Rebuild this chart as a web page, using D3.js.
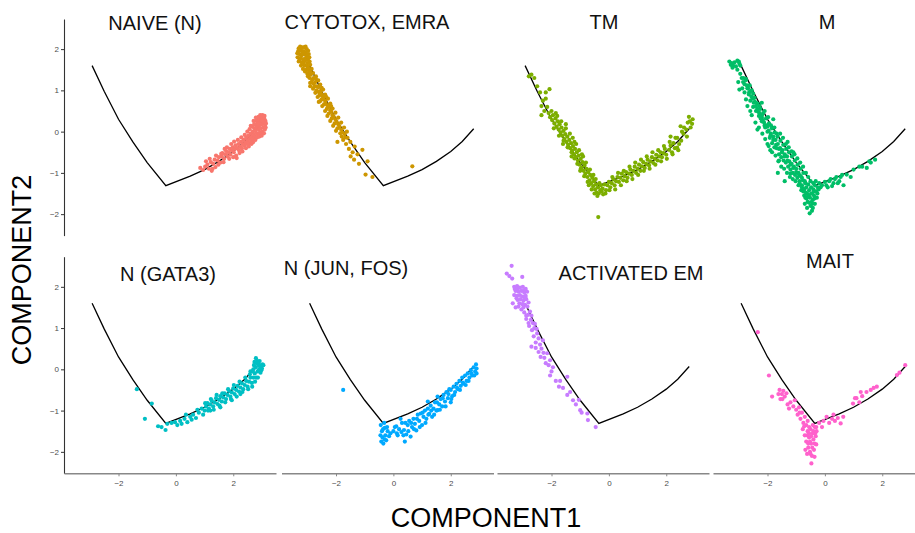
<!DOCTYPE html>
<html><head><meta charset="utf-8">
<script src="https://cdn.jsdelivr.net/npm/d3@7"></script>
<style>body{margin:0;background:#fff}svg{display:block}</style>
</head><body>
<svg id="chart" width="915" height="533"></svg>
<script>
// ---- DATA ----
const panelTitles = ["NAIVE (N)", "CYTOTOX, EMRA", "TM", "M", "N (GATA3)", "N (JUN, FOS)", "ACTIVATED EM", "MAIT"];
const panelColors = ["#F8766D", "#CD9600", "#7CAE00", "#00BE67", "#00BFC4", "#00A9FF", "#C77CFF", "#FF61CC"];
const xTicks = [-2, 0, 2];
const yTicks = [-2, -1, 0, 1, 2];
const xLabel = "COMPONENT1";
const yLabel = "COMPONENT2";
// principal curve (same in every panel)
const curveX = [-2.92, -2.5, -2.0, -1.5, -1.0, -0.35, 0.5, 1.0, 1.5, 2.0, 2.4, 2.8];
const curveY = [1.6, 0.98, 0.3, -0.25, -0.75, -1.31, -1.08, -0.92, -0.72, -0.48, -0.24, 0.07];

const naivePts = [[0.85,-0.88],[0.95,-0.93],[1.02,-0.85],[1.1,-0.8],[1.15,-0.9],[1.22,-0.74],[1.3,-0.78],[1.35,-0.68],[1.38,-0.86],[1.45,-0.7],[1.5,-0.62],[1.55,-0.75],
[1.6,-0.6],[1.62,-0.52],[1.68,-0.66],[1.72,-0.55],[1.75,-0.47],[1.8,-0.6],[1.83,-0.5],[1.88,-0.42],[1.9,-0.56],[1.95,-0.46],[1.98,-0.38],[2.02,-0.5],[2.05,-0.42],[2.08,-0.33],[2.1,-0.58],[2.14,-0.4],[2.18,-0.3],[2.2,-0.45],
[2.24,-0.36],[2.27,-0.25],[2.3,-0.4],[2.33,-0.3],[2.36,-0.2],[2.38,-0.34],[2.42,-0.26],[2.45,-0.15],[2.47,-0.3],[2.5,-0.22],[2.52,-0.1],[2.55,-0.28],[2.58,-0.16],[2.6,-0.05],[2.62,-0.22],[2.65,-0.12],[2.68,0.0],[2.7,-0.18],
[2.72,-0.06],[2.74,0.08],[2.76,-0.12],[2.78,0.02],[2.8,0.15],[2.82,-0.04],[2.84,0.1],[2.86,0.22],[2.87,-0.08],[2.89,0.05],[2.9,0.3],[2.92,0.16],[2.93,-0.02],[2.95,0.25],[2.96,0.08],[2.98,0.33],[3.0,0.18],[3.01,0.0],[3.03,0.27],[3.05,0.1],[3.06,0.22],[3.08,0.32],[3.1,0.05],[3.11,0.16],[3.12,0.26],[2.97,-0.05],[2.85,0.3],[3.04,0.36],[1.4,-0.58],[1.25,-0.95],[1.7,-0.42],[2.0,-0.62],
[1.05,-0.72],[1.18,-0.66],[1.28,-0.9],[1.48,-0.8],[1.58,-0.54],[1.66,-0.74],[1.78,-0.38],[1.86,-0.66],[1.93,-0.3],[2.03,-0.24],[2.12,-0.64],[2.16,-0.2],[2.22,-0.52],[2.28,-0.14],[2.32,-0.48],[2.4,-0.08],[2.44,-0.4],[2.49,0.0],[2.54,-0.36],[2.57,0.06],[2.63,-0.3],[2.66,0.12],[2.69,-0.26],[2.73,0.18],[2.77,-0.2],[2.81,0.26],[2.83,-0.14],[2.88,0.36],[2.91,-0.12],[2.94,0.4],[2.99,-0.1],[3.02,0.4],[3.07,-0.04],[3.09,0.38],[3.13,0.1],[3.14,0.2],[2.79,0.34],[2.71,0.26],[2.61,0.14],[2.93,0.08],[3.0,0.28],[2.87,0.2]];

const cytotoxPts = [[-3.3,2.02],[-3.25,2.06],[-3.18,2.04],[-3.1,2.05],[-3.02,2.0],[-3.32,1.95],[-3.22,1.97],[-3.12,1.95],[-3.05,1.92],[-2.97,1.96],[-3.28,1.88],[-3.2,1.85],[-3.1,1.87],[-3.02,1.84],[-2.95,1.88],[-3.34,1.8],[-3.25,1.78],[-3.15,1.76],[-3.05,1.78],[-2.98,1.75],[-3.3,1.7],[-3.2,1.68],[-3.12,1.7],[-3.0,1.66],[-2.92,1.7],[-3.22,1.6],[-3.1,1.6],[-3.0,1.58],[-2.9,1.62],[-3.15,1.52],
[-3.05,1.5],[-2.95,1.48],[-2.85,1.52],[-3.0,1.4],[-2.88,1.38],[-2.8,1.42],[-2.92,1.3],[-2.78,1.3],[-2.7,1.34],[-2.85,1.2],[-2.72,1.2],[-2.62,1.24],[-2.75,1.1],[-2.62,1.08],[-2.55,1.14],[-2.68,1.0],[-2.55,0.98],[-2.45,1.02],[-2.58,0.88],[-2.46,0.86],[-2.38,0.9],[-2.5,0.78],[-2.38,0.75],[-2.28,0.8],[-2.42,0.66],[-2.3,0.64],[-2.2,0.68],[-2.32,0.55],[-2.2,0.52],[-2.12,0.56],[-2.25,0.44],[-2.12,0.4],[-2.02,0.46],[-2.15,0.32],[-2.02,0.3],[-1.92,0.34],[-2.05,0.2],[-1.92,0.18],[-1.82,0.22],[-1.95,0.08],[-1.82,0.05],[-1.72,0.1],[-1.85,-0.04],[-1.7,-0.06],[-1.62,0.0],[-2.6,0.72],[-2.9,1.1],
[-1.75,-0.2],[-1.6,-0.15],[-1.65,-0.3],[-1.55,-0.42],[-1.5,-0.25],[-1.42,-0.5],[-1.35,-0.36],[-1.49,-0.6],[-1.37,-0.68],[-1.25,-0.55],[-1.08,-0.44],[-0.9,-0.72],[-1.2,-0.78],[-0.97,-1.04],[-0.73,-1.1],[0.66,-0.84],[-1.95,-0.25],
[-3.35,1.9],[-3.27,1.74],[-3.17,1.92],[-3.08,1.72],[-2.93,1.8],[-3.24,2.0],[-3.06,2.06],[-3.14,1.64],[-2.96,1.54],[-3.08,1.46],[-2.9,1.44],[-2.98,1.34],[-2.83,1.26],[-2.9,1.18],[-2.78,1.16],[-2.8,1.04],[-2.68,1.1],[-2.72,0.94],[-2.6,0.96],[-2.64,0.84],[-2.52,0.92],[-2.55,0.74],[-2.44,0.8],[-2.48,0.62],[-2.36,0.7],[-2.38,0.5],[-2.26,0.6],[-2.3,0.38],[-2.17,0.48],[-2.2,0.26],[-2.08,0.36],[-2.1,0.14],[-1.98,0.24],[-2.0,0.02],[-1.88,0.12],[-1.78,-0.02],[-1.68,-0.14],[-1.8,-0.12],[-2.7,1.28],[-2.5,1.06],[-2.35,0.85],[-2.17,0.62]];

const tmPts = [[-2.79,1.34],[-2.7,1.38],[-2.6,1.3],[-2.07,1.03],[-2.4,0.95],[-2.3,0.75],[-2.2,0.8],[-2.35,0.62],[-2.15,0.6],[-2.25,0.5],[-2.1,0.45],
[-2.05,0.35],[-1.98,0.28],[-1.95,0.4],[-1.9,0.2],[-1.86,0.32],[-1.82,0.12],[-1.78,0.25],[-1.75,0.05],[-1.72,0.18],[-1.68,-0.02],[-1.65,0.1],[-1.62,-0.1],[-1.58,0.02],[-1.55,-0.18],[-1.52,-0.06],[-1.48,-0.25],[-1.45,-0.12],[-1.42,-0.32],[-1.38,-0.2],[-1.35,-0.4],[-1.32,-0.28],[-1.28,-0.46],[-1.25,-0.35],[-1.22,-0.55],[-1.18,-0.42],[-1.15,-0.62],[-1.12,-0.5],[-1.08,-0.7],[-1.05,-0.58],[-1.02,-0.8],[-0.98,-0.66],[-0.95,-0.88],[-0.92,-0.74],[-0.88,-0.95],[-0.85,-0.82],[-0.82,-1.02],[-0.78,-0.9],[-0.75,-1.1],[-0.72,-0.98],[-0.68,-1.18],[-0.65,-1.05],[-0.62,-1.25],[-0.58,-1.12],[-0.55,-1.32],[-0.52,-1.2],[-0.48,-1.4],[-0.45,-1.28],[-0.42,-1.48],[-0.38,-1.35],[-0.35,-1.5],[-0.3,-1.42],[-0.28,-1.3],[-1.6,-0.3],[-1.3,-0.6],[-1.0,-0.95],[-0.7,-1.3],[-1.85,0.45],[-1.5,0.08],[-1.2,-0.25],[-0.9,-0.6],
[-0.37,-2.07],
[-0.22,-1.38],[-0.15,-1.28],[-0.1,-1.42],[-0.05,-1.3],[0.0,-1.22],[0.05,-1.35],[0.1,-1.25],[0.15,-1.15],[0.2,-1.3],[0.25,-1.2],[0.3,-1.1],[0.35,-1.22],[0.4,-1.12],[0.45,-1.02],[0.5,-1.18],[0.55,-1.08],[0.6,-0.98],[0.65,-1.12],[0.7,-1.02],[0.75,-0.92],[0.8,-1.05],[0.85,-0.95],[0.9,-0.85],[0.95,-1.0],[1.0,-0.9],[1.05,-0.8],[1.1,-0.95],[1.15,-0.84],[1.2,-0.74],[1.25,-0.88],[1.3,-0.78],[1.35,-0.68],[1.4,-0.82],[1.45,-0.72],[1.5,-0.62],[1.55,-0.76],[1.6,-0.66],[1.65,-0.56],[1.7,-0.7],[1.75,-0.6],[1.8,-0.5],[1.85,-0.62],[1.9,-0.52],[1.95,-0.42],[2.0,-0.56],[2.1,-0.44],[2.15,-0.34],[2.25,-0.28],[2.3,-0.4],[2.15,-0.12],[2.38,-0.15],[2.5,0.13],[2.38,-0.39],[2.6,-0.05],[2.7,0.05],[2.79,0.36],[2.9,0.19],[2.85,0.1],[2.75,0.22],[2.55,0.0],[2.45,-0.3],[2.2,-0.5],
[-2.0,0.5],[-1.92,0.08],[-1.8,0.38],[-1.74,-0.1],[-1.66,0.25],[-1.58,-0.22],[-1.5,0.18],[-1.44,-0.38],[-1.36,-0.05],[-1.3,-0.5],[-1.26,-0.15],[-1.2,-0.65],[-1.14,-0.3],[-1.1,-0.78],[-1.04,-0.45],[-0.98,-0.9],[-0.94,-0.55],[-0.86,-1.08],[-0.8,-0.75],[-0.74,-1.22],[-0.66,-0.92],[-0.6,-1.4],[-0.54,-1.05],[-0.5,-1.5],[-0.46,-1.15],[-0.4,-1.56],[-0.33,-1.25],[-0.25,-1.45],[-0.2,-1.52],[-2.2,0.95],[-2.5,1.1],[-2.35,0.4],
[-0.12,-1.5],[0.02,-1.42],[0.12,-1.1],[0.22,-1.4],[0.32,-1.0],[0.42,-1.3],[0.52,-0.95],[0.62,-1.2],[0.72,-0.85],[0.82,-1.15],[0.92,-0.75],[1.02,-1.05],[1.12,-0.68],[1.22,-0.95],[1.32,-0.6],[1.42,-0.9],[1.52,-0.5],[1.62,-0.8],[1.72,-0.45],[1.82,-0.72],[1.92,-0.35],[2.02,-0.66],[2.12,-0.25],[2.22,-0.55],[2.32,-0.15],[2.42,-0.45],[2.52,-0.22],[2.62,0.1],[2.72,-0.12],[2.82,0.25],[2.92,0.3]];

const mPts = [[-3.33,1.7],[-3.25,1.66],[-3.15,1.68],[-3.05,1.72],[-2.98,1.65],[-3.2,1.6],[-3.1,1.58],[-3.28,1.62],[-2.95,1.6],[-3.0,1.7],
[-2.95,1.4],[-2.85,1.2],[-2.98,1.02],[-2.75,1.25],[-2.7,1.05],[-2.8,0.95],[-2.65,0.9],[-2.6,0.75],[-2.55,1.0],[-2.5,0.6],[-2.45,0.82],[-2.4,0.5],[-2.35,0.68],[-2.3,0.38],[-2.25,0.55],[-2.2,0.25],[-2.15,0.45],[-2.1,0.15],[-2.05,0.32],[-2.0,0.0],[-1.95,0.2],[-1.9,-0.1],[-1.85,0.08],[-1.8,-0.2],[-1.75,-0.02],[-1.7,-0.32],[-1.65,-0.12],[-1.6,-0.42],[-1.55,-0.22],[-1.5,-0.5],[-1.45,-0.32],[-1.4,-0.6],[-1.35,-0.42],[-1.3,-0.7],[-1.25,-0.5],[-1.2,-0.8],[-1.15,-0.6],[-1.1,-0.88],[-1.05,-0.7],[-1.0,-0.98],[-0.95,-0.8],[-0.9,-1.05],[-0.85,-0.9],[-0.8,-1.12],[-0.75,-1.0],[-2.3,0.1],[-2.0,-0.3],[-1.8,0.3],[-1.64,-1.0],[-1.4,-1.2],[-1.6,-0.7],[-1.3,-0.25],[-1.1,-0.5],[-2.2,0.7],[-2.6,0.5],[-1.9,-0.45],[-1.2,-1.02],
[-0.88,-1.2],[-0.8,-1.3],[-0.75,-1.45],[-0.7,-1.2],[-0.68,-1.6],[-0.65,-1.35],[-0.62,-1.5],[-0.6,-1.7],[-0.58,-1.28],[-0.55,-1.42],[-0.52,-1.6],[-0.5,-1.8],[-0.48,-1.35],[-0.45,-1.5],[-0.42,-1.65],[-0.4,-1.4],[-0.38,-1.55],[-0.35,-1.3],[-0.3,-1.45],[-0.28,-1.6],[-0.25,-1.35],[-0.2,-1.25],[-0.53,-1.98],[-0.45,-1.92],[-0.62,-1.85],[-0.7,-1.75],[-0.35,-1.75],
[-0.1,-1.3],[0.0,-1.22],[0.1,-1.35],[0.2,-1.15],[0.3,-1.25],[0.4,-1.1],[0.5,-1.2],[0.6,-1.05],[0.76,-1.04],[0.9,-1.1],[1.0,-0.92],[1.2,-0.85],[1.46,-0.88],[1.6,-0.75],[1.75,-0.68],[0.65,-1.3],
[-3.22,1.55],[-3.05,1.5],[-2.9,1.3],[-3.02,1.2],[-2.88,1.05],[-2.75,0.78],[-2.62,1.12],[-2.7,0.62],[-2.5,0.92],[-2.55,0.4],[-2.4,0.7],[-2.42,0.22],[-2.28,0.62],[-2.35,0.05],[-2.2,0.4],[-2.18,-0.05],[-2.1,0.5],[-2.08,-0.18],[-1.98,0.35],[-1.96,-0.35],[-1.88,0.15],[-1.84,-0.5],[-1.76,0.1],[-1.72,-0.58],[-1.68,-0.05],[-1.62,-0.72],[-1.56,-0.05],[-1.52,-0.85],[-1.46,-0.15],[-1.42,-0.9],[-1.36,-0.3],[-1.32,-1.0],[-1.26,-0.38],[-1.22,-1.1],[-1.16,-0.48],[-1.12,-1.15],[-1.06,-0.55],[-1.02,-1.2],[-0.96,-0.65],[-0.92,-1.3],[-0.86,-0.75],[-0.82,-1.42],[-0.76,-0.85],[-0.72,-1.55],[-0.66,-1.0],[-0.58,-1.1],[-0.56,-1.72],[-0.5,-1.2],[-0.46,-1.7],[-0.4,-1.25],[-0.36,-1.62],[-0.32,-1.2],[-0.26,-1.5],[-0.22,-1.4],[-0.15,-1.35],[-0.6,-1.58],[-0.42,-1.85],[-0.66,-1.48],
[0.05,-1.3],[0.15,-1.2],[0.25,-1.32],[0.35,-1.15],[0.55,-1.1],[0.45,-1.25],[1.3,-0.85],[1.55,-0.72],
[-2.84,1.3],[-2.76,1.28],[-2.68,1.05],[-2.6,0.98],[-2.52,0.8],[-2.44,0.72],[-2.36,0.55],[-2.28,0.45],[-2.2,0.35],[-2.12,0.22],[-2.04,0.15],[-1.96,0.02],[-1.88,-0.05],[-1.8,-0.12],[-1.72,-0.2],[-1.64,-0.3],[-1.56,-0.4],[-1.48,-0.45],[-1.4,-0.55],[-1.32,-0.6],[-1.24,-0.72],[-1.16,-0.78],[-1.08,-0.85],[-1.0,-0.9],[-0.92,-1.0],[-0.84,-1.08],[-0.76,-1.18],[-0.68,-1.25],
[-2.8,1.15],[-2.72,1.12],[-2.64,0.95],[-2.56,0.85],[-2.48,0.7],[-2.4,0.62],[-2.32,0.48],[-2.24,0.32],[-2.16,0.28],[-2.08,0.1],[-2.0,0.12],[-1.92,-0.15],[-1.84,-0.28],[-1.76,-0.38],[-1.68,-0.4],[-1.6,-0.55],[-1.52,-0.62],[-1.44,-0.7],[-1.36,-0.75],[-1.28,-0.85],[-1.2,-0.92],[-1.12,-1.0],[-1.04,-1.05],[-0.96,-1.12],[-0.88,-1.25],[-0.8,-1.35],[-0.72,-1.4],[-0.64,-1.62],[-0.56,-1.55],[-0.48,-1.5],[-0.44,-1.75],[-0.38,-1.45]];

const gata3Pts = [[-1.36,-0.48],[-0.84,-0.83],[-1.08,-1.2],[-0.62,-1.38],[-0.5,-1.4],[-0.36,-1.47],[-0.3,-1.32],[-0.15,-1.3],[-0.03,-1.28],[0.05,-1.35],[0.15,-1.25],[0.3,-1.2],[0.4,-1.28],[0.5,-1.15],[0.6,-1.1],[0.7,-1.18],[0.8,-1.05],[0.9,-0.95],
[1.0,-1.0],[1.05,-0.9],[1.1,-0.82],[1.15,-0.95],[1.2,-0.85],[1.25,-0.76],[1.3,-0.9],[1.35,-0.8],[1.4,-0.7],[1.45,-0.84],[1.5,-0.74],[1.55,-0.65],[1.6,-0.78],[1.65,-0.68],[1.7,-0.58],[1.75,-0.72],[1.8,-0.62],[1.85,-0.52],[1.9,-0.66],[1.95,-0.56],[2.0,-0.46],[2.05,-0.6],[2.1,-0.5],[2.15,-0.4],[2.2,-0.54],[2.25,-0.44],[2.3,-0.34],[2.35,-0.48],[2.4,-0.38],[2.45,-0.28],[2.5,-0.42],[2.55,-0.3],[2.6,-0.2],[2.65,-0.33],[2.7,-0.2],[2.75,-0.1],[2.78,0.05],[2.8,-0.2],[2.82,0.15],[2.85,-0.05],[2.88,0.1],[2.9,0.0],[2.92,0.2],[2.95,-0.08],[2.97,0.08],[3.0,0.02],[3.05,0.1],[2.79,0.27],[2.7,0.0],[2.6,-0.05],[1.2,-1.0],[1.55,-0.92],[1.95,-0.75],[2.25,-0.6],
[1.02,-0.82],[1.12,-1.0],[1.22,-0.72],[1.32,-0.98],[1.42,-0.62],[1.52,-0.88],[1.62,-0.58],[1.72,-0.8],[1.82,-0.48],[1.92,-0.72],[2.02,-0.38],[2.12,-0.66],[2.22,-0.3],[2.32,-0.55],[2.42,-0.2],[2.52,-0.48],[2.58,-0.12],[2.66,-0.42],[2.72,0.1],[2.76,-0.3],[2.84,0.2],[2.86,-0.2],[2.9,0.12],[2.94,0.06],[2.98,-0.02],[3.02,0.12],[2.74,0.18],[2.68,-0.05],[0.95,-1.1],[0.75,-0.98],[0.55,-1.22],[0.35,-1.1],[0.2,-1.32]];

const junfosPts = [[-1.75,-0.5],
[-0.44,-1.35],[-0.4,-1.5],[-0.38,-1.65],[-0.35,-1.8],[-0.3,-1.42],[-0.28,-1.6],[-0.25,-1.72],[-0.2,-1.5],[-0.45,-1.6],[-0.32,-1.3],[-0.15,-1.62],
[0.0,-1.5],[0.1,-1.38],[0.15,-1.6],[0.2,-1.45],[0.3,-1.3],[0.37,-1.47],[0.45,-1.58],[0.5,-1.35],[0.55,-1.25],[0.6,-1.63],[0.65,-1.4],[0.7,-1.2],[0.75,-1.32],[0.8,-1.48],[0.85,-1.1],[0.9,-1.25],[0.95,-1.07],[1.0,-1.35],[1.05,-1.15],[1.1,-1.0],[1.15,-1.2],[1.2,-0.95],[1.25,-1.08],[1.3,-0.88],[1.35,-1.15],[1.4,-0.95],[1.45,-0.8],[1.5,-1.0],[1.54,-0.66],[1.54,-0.99],[1.6,-0.85],[1.65,-0.72],[1.7,-0.9],[1.75,-0.62],[1.8,-0.78],[1.85,-0.55],[1.9,-0.7],[1.95,-0.48],[2.0,-0.5],[2.05,-0.65],[2.1,-0.42],[2.15,-0.55],[2.2,-0.35],[2.25,-0.48],[2.3,-0.28],[2.35,-0.4],[2.4,-0.2],[2.45,-0.35],[2.5,-0.15],[2.55,-0.28],[2.59,-0.1],[2.65,-0.2],[2.7,-0.02],[2.75,-0.15],[2.8,0.05],[2.85,-0.05],[2.88,0.12],[2.9,-0.1],[0.25,-1.2],[0.4,-1.75],[1.2,-0.78],[2.0,-0.8],
[-0.42,-1.75],[-0.36,-1.45],[-0.3,-1.7],[-0.22,-1.4],[-0.1,-1.55],[0.05,-1.4],[0.12,-1.55],[0.28,-1.52],[0.35,-1.6],[0.42,-1.3],[0.52,-1.5],[0.62,-1.3],[0.72,-1.45],[0.82,-1.2],[0.92,-1.4],[1.02,-1.05],[1.12,-1.3],[1.22,-1.1],[1.32,-1.0],[1.42,-1.1],[1.52,-0.8],[1.62,-0.98],[1.72,-0.7],[1.82,-0.9],[1.92,-0.6],[2.02,-0.72],[2.12,-0.62],[2.22,-0.45],[2.32,-0.5],[2.42,-0.32],[2.52,-0.38],[2.62,-0.28],[2.72,-0.1],[2.82,-0.15],[2.9,0.02]];

const actemPts = [[-3.39,2.51],[-3.56,2.32],[-3.47,2.26],[-3.37,2.2],[-3.02,2.24],
[-3.3,2.0],[-3.2,2.02],[-3.1,1.98],[-3.0,2.0],[-2.9,1.95],[-3.25,1.9],[-3.15,1.88],[-3.05,1.9],[-2.95,1.86],[-2.85,1.88],[-3.3,1.8],[-3.2,1.78],[-3.1,1.8],[-3.0,1.76],[-2.9,1.78],[-3.18,1.68],[-3.08,1.7],[-2.98,1.66],[-2.88,1.7],[-3.35,1.6],[-3.12,1.6],[-3.02,1.58],[-2.92,1.56],[-3.25,1.5],[-2.84,1.52],[-3.05,1.45],
[-2.95,1.38],[-2.82,1.32],[-2.75,1.4],[-2.88,1.22],[-2.72,1.2],[-2.65,1.12],[-2.78,1.05],[-2.6,1.0],[-2.5,0.87],[-2.62,0.8],[-2.45,0.75],[-2.55,0.65],[-2.4,0.6],[-2.35,0.5],[-2.45,0.42],[-2.28,0.4],[-2.15,0.39],[-2.25,0.28],[-2.2,0.15],[-2.1,0.1],[-2.05,0.22],[-2.0,-0.05],[-1.95,0.05],[-1.85,-0.28],[-1.74,-0.42],[-1.7,-0.28],[-1.6,-0.45],[-1.45,-0.18],[-1.45,-0.62],[-1.35,-0.55],[-1.25,-0.75],[-1.05,-0.74],[-1.15,-0.85],[-1.0,-0.99],[-0.95,-1.05],[-0.73,-1.23],[-0.75,-1.07],[-0.46,-1.4],[-2.7,0.55],[-2.3,0.7],
[-3.28,1.95],[-3.18,1.95],[-2.95,1.92],[-3.22,1.72],[-2.92,1.72],[-3.15,1.52],[-2.98,1.5],[-2.8,1.62],[-2.88,1.3],[-2.7,1.3],[-2.8,1.12],[-2.58,1.1],[-2.68,0.95],[-2.52,0.98],[-2.55,0.52],[-2.38,0.3],[-2.05,-0.15]];

const maitPts = [[-2.34,0.9],[-1.95,-0.15],[-1.84,-0.66],[-1.58,-0.5],[-1.5,-0.6],[-1.45,-0.52],[-1.4,-0.66],[-1.34,-0.58],[-1.55,-0.72],[-1.3,-0.85],[-1.2,-0.8],[-1.1,-0.9],[-1.05,-0.75],[-1.0,-0.98],[-0.95,-1.1],[-0.9,-0.92],[-0.85,-1.2],[-0.8,-1.05],[-0.75,-1.3],[-0.7,-1.15],[-0.65,-1.35],[-0.6,-1.25],
[-0.77,-1.45],[-0.7,-1.6],[-0.65,-1.75],[-0.6,-1.5],[-0.58,-1.9],[-0.55,-1.65],[-0.52,-2.0],[-0.5,-1.45],[-0.48,-1.8],[-0.45,-2.1],[-0.42,-1.55],[-0.4,-1.7],[-0.38,-1.95],[-0.35,-1.4],[-0.32,-1.62],[-0.3,-1.82],[-0.29,-1.5],[-0.62,-2.05],[-0.47,-2.28],[-0.55,-1.4],[-0.42,-1.35],[-0.68,-1.95],[-0.36,-2.12],
[-0.2,-1.3],[-0.1,-1.4],[0.06,-1.15],[0.15,-1.3],[0.25,-1.2],[0.35,-1.25],[0.45,-1.18],[0.55,-1.31],[0.64,-1.15],[0.98,-0.83],[1.1,-0.7],[1.2,-0.8],[1.3,-0.65],[1.45,-0.55],[1.6,-0.5],[1.7,-0.45],[1.81,-0.42],[2.51,-0.14],[2.6,-0.08],[2.8,0.1],
[-1.48,-0.72],[-1.62,-0.6],[-1.25,-0.95],[-0.88,-1.05],[-0.72,-1.38],[-0.62,-1.6],[-0.55,-1.55],[-0.52,-1.75],[-0.48,-1.62],[-0.44,-1.9],[-0.4,-1.5],[-0.36,-1.8],[-0.34,-1.55],[-0.58,-1.8],[-0.5,-2.05],[-0.3,-1.4],[-0.05,-1.25],[0.3,-1.1],[1.25,-0.55],[1.05,-0.7]];

const panelPoints = [naivePts, cytotoxPts, tmPts, mPts, gata3Pts, junfosPts, actemPts, maitPts];

// ---- LAYOUT ----
const svg = d3.select("#chart");
const colLeft = [64, 281.5, 497, 713];
const colWidth = 212;
const rowTop = [19, 256.7];
const rowHeight = 216.6;
const xDomain = [-3.9, 3.49];
const yDomain = [-2.52, 2.73];
const titlePos = [[155, 30], [367, 29], [604, 29], [827, 29], [168, 281], [346, 275], [631, 280], [830, 268]];
const font = "'Liberation Sans', Arial, sans-serif";

const curveData = curveX.map((x, i) => [x, curveY[i]]);

panelTitles.forEach((title, i) => {
  const row = Math.floor(i / 4), col = i % 4;
  const x = d3.scaleLinear().domain(xDomain).range([colLeft[col], colLeft[col] + colWidth]);
  const y = d3.scaleLinear().domain(yDomain).range([rowTop[row] + rowHeight, rowTop[row]]);
  const g = svg.append("g");

  if (col === 0) {
    const ya = g.append("g").attr("transform", `translate(${colLeft[col]},0)`)
      .call(d3.axisLeft(y).tickValues(yTicks).tickSize(3).tickSizeOuter(0).tickFormat(d3.format("d")));
    ya.select(".domain").attr("stroke", "#333").attr("stroke-width", 1.1);
    ya.selectAll(".tick line").attr("stroke", "#333");
    ya.selectAll(".tick text").attr("fill", "#4d4d4d").attr("font-size", 8).attr("font-family", font).attr("x", -5);
  }
  if (row === 1) {
    const xa = g.append("g").attr("transform", `translate(0,${rowTop[row] + rowHeight})`)
      .call(d3.axisBottom(x).tickValues(xTicks).tickSize(3).tickSizeOuter(0).tickFormat(d3.format("d")));
    xa.select(".domain").attr("stroke", "#888").attr("stroke-width", 1.6);
    xa.selectAll(".tick line").attr("stroke", "#888");
    xa.selectAll(".tick text").attr("fill", "#4d4d4d").attr("font-size", 8).attr("font-family", font).attr("y", 7);
  }

  g.append("path").datum(curveData)
    .attr("d", d3.line().x(d => x(d[0])).y(d => y(d[1])))
    .attr("fill", "none").attr("stroke", "#000").attr("stroke-width", 1.3);

  g.append("g").selectAll("circle").data(panelPoints[i]).join("circle")
    .attr("cx", d => x(d[0])).attr("cy", d => y(d[1])).attr("r", 2.1)
    .attr("fill", panelColors[i]);

  svg.append("text").attr("x", titlePos[i][0]).attr("y", titlePos[i][1])
    .attr("text-anchor", "middle").attr("font-family", font).attr("font-size", 20)
    .attr("fill", "#111").text(title);
});

svg.append("text").attr("transform", "translate(31,270) rotate(-90)")
  .attr("text-anchor", "middle").attr("font-family", font).attr("font-size", 27)
  .attr("fill", "#000").text(yLabel);
svg.append("text").attr("x", 486).attr("y", 527)
  .attr("text-anchor", "middle").attr("font-family", font).attr("font-size", 27)
  .attr("fill", "#000").text(xLabel);
</script>
</body></html>
